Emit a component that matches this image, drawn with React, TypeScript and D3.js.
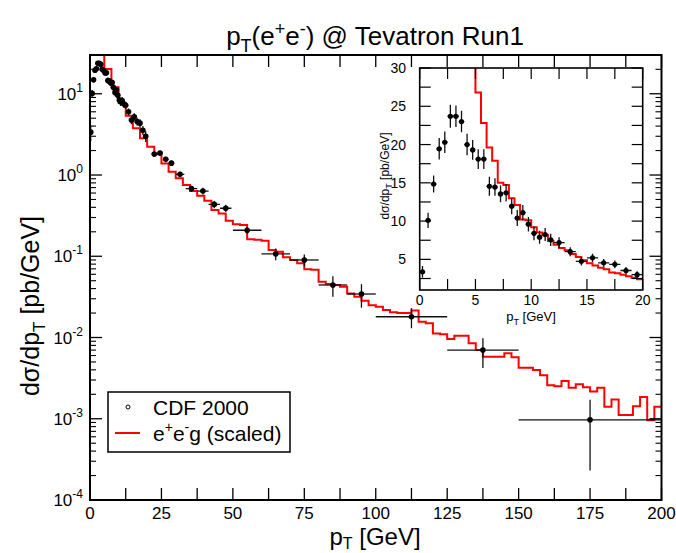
import React from 'react';
import * as d3 from 'd3';

// ---------- data ----------
// CDF 2000 measurement: bin centres (GeV), d sigma/dpT (pb/GeV), stat. error, half bin width
const cdfPt = [
  0.25, 0.75, 1.25, 1.75, 2.25, 2.75, 3.25, 3.75, 4.25, 4.75, 5.25, 5.75,
  6.25, 6.75, 7.25, 7.75, 8.25, 8.75, 9.25, 9.75, 10.25, 10.75, 11.25, 11.75,
  12.5, 13.5, 14.5, 15.5, 16.5, 17.5, 18.5, 19.5,
  22.5, 24.5, 26.5, 28.5, 31.5, 35.5, 39.5, 43.5, 47.5, 55, 65, 75, 85, 95, 112.5, 137.5, 175,
];
const cdfValue = [
  3.37, 10.1, 14.85, 19.45, 20.3, 23.7, 23.7, 23.0, 20.0, 19.3, 18.1, 18.1,
  14.55, 14.45, 13.55, 13.7, 11.95, 10.4, 11.1, 9.6, 8.4, 7.9, 8.25, 7.55,
  7.2, 6.0, 4.75, 5.2, 4.55, 4.35, 3.55, 3.0,
  1.81, 1.86, 1.56, 1.4, 1.02, 0.68, 0.635, 0.435, 0.39, 0.209, 0.107, 0.09, 0.0443, 0.0343, 0.018, 0.007, 0.00097,
];
const cdfError = [
  0.75, 1.0, 1.1, 1.4, 1.4, 1.5, 1.4, 1.4, 1.4, 1.3, 1.3, 1.3,
  1.25, 1.15, 1.1, 1.15, 1.05, 1.05, 1.0, 0.95, 0.9, 0.85, 0.85, 0.8,
  0.7, 0.6, 0.55, 0.55, 0.5, 0.5, 0.45, 0.45,
  0.13, 0.13, 0.12, 0.11, 0.08, 0.06, 0.06, 0.045, 0.04, 0.02, 0.018, 0.015, 0.0125, 0.011, 0.005, 0.0028, 0.00074,
];
const cdfHalfWidth = [
  0.25, 0.25, 0.25, 0.25, 0.25, 0.25, 0.25, 0.25, 0.25, 0.25, 0.25, 0.25,
  0.25, 0.25, 0.25, 0.25, 0.25, 0.25, 0.25, 0.25, 0.25, 0.25, 0.25, 0.25,
  0.5, 0.5, 0.5, 0.5, 0.5, 0.5, 0.5, 0.5,
  1, 1, 1, 1, 1.5, 2, 2, 2, 2, 5, 5, 5, 5, 5, 12.5, 12.5, 25,
];

// e+e-g (scaled) histogram, main panel: 2.5 GeV bins starting at 2.5 GeV
const histMainStart = 2.5;
const histMainWidth = 2.5;
const histMainValues = [
  40, 20.2, 12.0, 7.77, 5.37, 3.75, 2.83, 2.23, 1.8, 1.39,
  1.1, 0.91, 0.753, 0.635, 0.556, 0.483, 0.371, 0.337, 0.274, 0.247,
  0.242, 0.162, 0.16, 0.155, 0.119, 0.114, 0.097, 0.09, 0.082, 0.069,
  0.068, 0.0486, 0.0456, 0.0443, 0.0422, 0.0349, 0.0317, 0.0283, 0.025, 0.0239,
  0.0218, 0.0205, 0.02, 0.02, 0.0215, 0.0156, 0.015, 0.0112, 0.011, 0.0096,
  0.0105, 0.0105, 0.0085, 0.007, 0.0058, 0.0058, 0.0058, 0.0064, 0.0057, 0.00425,
  0.00425, 0.00398, 0.00344, 0.00259, 0.00251, 0.00291, 0.0024, 0.00266, 0.00245, 0.00216,
  0.0024, 0.00141, 0.00173, 0.00111, 0.00111, 0.00143, 0.00185, 0.00096, 0.00141,
];

// histogram in the inset: 0.5 GeV bins starting at 4.5 GeV
const histInsetStart = 4.5;
const histInsetWidth = 0.5;
const histInsetValues = [
  40, 26.8, 22.8, 19.6, 17.9, 15.0, 14.7, 13.0, 12.1, 10.2, 10.1,
  9.2, 8.5, 8.2, 7.4, 6.9, 6.5, 6.2, 5.7, 5.3, 4.9,
  4.5, 4.2, 3.9, 3.7, 3.3, 3.2, 3.0, 2.8, 2.6, 2.4,
];

const mainXTicks = [0, 25, 50, 75, 100, 125, 150, 175, 200];
const mainYDecades = [-4, -3, -2, -1, 0, 1];
const insetXTicks = [0, 5, 10, 15, 20];
const insetYTicks = [5, 10, 15, 20, 25, 30];

// ---------- layout ----------
const W = 676;
const H = 553;
const FONT = '"Liberation Sans", Arial, Helvetica, sans-serif';
const main = { l: 90, r: 661.5, t: 55, b: 500 };
const ins = { l: 419.7, r: 642.7, t: 68, b: 290 };

const x = d3.scaleLinear().domain([0, 200]).range([main.l, main.r]);
const y = d3.scaleLog().domain([1e-4, 30]).range([main.b, main.t]);
const xi = d3.scaleLinear().domain([0, 20]).range([ins.l, ins.r]);
const yi = d3.scaleLinear().domain([1, 30]).range([ins.b, ins.t]);

function stepPath(start: number, width: number, values: number[], sx: any, sy: any) {
  const pts: [number, number][] = values.map((v, i) => [start + i * width, v]);
  pts.push([start + values.length * width, values[values.length - 1]]);
  return d3.line<[number, number]>()
    .x((d) => sx(d[0]))
    .y((d) => sy(d[1]))
    .curve(d3.curveStepAfter)(pts) || '';
}

export default function App() {
  const points = cdfPt.map((p, i) => ({ p, v: cdfValue[i], e: cdfError[i], w: cdfHalfWidth[i] }));

  const xMinor = d3.range(0, 200.01, 12.5);
  const yMinor: number[] = [];
  for (const e of mainYDecades) for (let k = 2; k <= 9; k++) { const v = k * Math.pow(10, e); if (v < 30) yMinor.push(v); }
  const insTicksX = d3.range(0, 20.01, 2.5);
  const insTicksY = d3.range(2.5, 30.01, 2.5);

  return (
    <svg width={W} height={H} style={{ position: 'absolute', left: 0, top: 0, background: '#fff' }} fontFamily={FONT}>
      <defs>
        <clipPath id="clipMain"><rect x={main.l} y={main.t} width={main.r - main.l} height={main.b - main.t} /></clipPath>
        <clipPath id="clipIns"><rect x={ins.l} y={ins.t} width={ins.r - ins.l} height={ins.b - ins.t} /></clipPath>
      </defs>
      <rect x={0} y={0} width={W} height={H} fill="#fff" />

      {/* title */}
      <text x={375} y={45} textAnchor="middle" fontSize={26} fill="#000">
        p<tspan dy={7} fontSize={18}>T</tspan><tspan dy={-7}>(e</tspan><tspan dy={-10} fontSize={18}>+</tspan><tspan dy={10}>e</tspan><tspan dy={-10} fontSize={18}>-</tspan><tspan dy={10}>) @ Tevatron Run1</tspan>
      </text>

      {/* main data */}
      <g clipPath="url(#clipMain)">
        <path d={stepPath(histMainStart, histMainWidth, histMainValues, x, y)} fill="none" stroke="#ff0000" strokeWidth={2} />
        {points.map((d, i) => (
          <g key={i}>
            <line x1={x(d.p - d.w)} x2={x(d.p + d.w)} y1={y(d.v)} y2={y(d.v)} stroke="#111" strokeWidth={1.3} />
            <line x1={x(d.p)} x2={x(d.p)} y1={y(d.v - d.e)} y2={y(d.v + d.e)} stroke="#111" strokeWidth={1.3} />
            <circle cx={x(d.p)} cy={y(d.v)} r={2.8} fill="#000" />
          </g>
        ))}
      </g>

      {/* main frame */}
      <rect x={main.l} y={main.t} width={main.r - main.l} height={main.b - main.t} fill="none" stroke="#000" strokeWidth={2} />
      {xMinor.map((t) => (
        <g key={'xt' + t}>
          <line x1={x(t)} x2={x(t)} y1={main.b} y2={main.b - 12} stroke="#000" strokeWidth={1.3} />
          <line x1={x(t)} x2={x(t)} y1={main.t} y2={main.t + 12} stroke="#000" strokeWidth={1.3} />
        </g>
      ))}
      {mainYDecades.map((e) => (
        <g key={'yt' + e}>
          <line x1={main.l} x2={main.l + 12} y1={y(Math.pow(10, e))} y2={y(Math.pow(10, e))} stroke="#000" strokeWidth={1.3} />
          <line x1={main.r} x2={main.r - 12} y1={y(Math.pow(10, e))} y2={y(Math.pow(10, e))} stroke="#000" strokeWidth={1.3} />
        </g>
      ))}
      {yMinor.map((v, i) => (
        <g key={'ym' + i}>
          <line x1={main.l} x2={main.l + 6} y1={y(v)} y2={y(v)} stroke="#000" strokeWidth={1.1} />
          <line x1={main.r} x2={main.r - 6} y1={y(v)} y2={y(v)} stroke="#000" strokeWidth={1.1} />
        </g>
      ))}
      {mainXTicks.map((t) => (
        <text key={'xl' + t} x={x(t)} y={519} textAnchor="middle" fontSize={17}>{t}</text>
      ))}
      {mainYDecades.map((e) => (
        <text key={'yl' + e} x={83} y={y(Math.pow(10, e)) + 6} textAnchor="end" fontSize={17}>
          10<tspan dy={-8} fontSize={12}>{e}</tspan>
        </text>
      ))}
      <text x={375} y={545} textAnchor="middle" fontSize={24}>
        p<tspan dy={4} fontSize={16}>T</tspan><tspan dy={-4}> [GeV]</tspan>
      </text>
      <text transform="translate(39,306) rotate(-90)" textAnchor="middle" fontSize={25}>
        dσ/dp<tspan dy={6} fontSize={17}>T</tspan><tspan dy={-6}> [pb/GeV]</tspan>
      </text>

      {/* legend */}
      <rect x={108} y={392} width={182} height={60} fill="#fff" stroke="#000" strokeWidth={1.5} />
      <circle cx={128} cy={407} r={2} fill="none" stroke="#000" strokeWidth={1} />
      <text x={153} y={415} fontSize={21}>CDF 2000</text>
      <line x1={115} x2={140} y1={433} y2={433} stroke="#ff0000" strokeWidth={2} />
      <text x={153} y={441} fontSize={21}>
        e<tspan dy={-9} fontSize={14}>+</tspan><tspan dy={9}>e</tspan><tspan dy={-9} fontSize={14}>-</tspan><tspan dy={9}>g (scaled)</tspan>
      </text>

      {/* inset */}
      <rect x={ins.l} y={ins.t} width={ins.r - ins.l} height={ins.b - ins.t} fill="#fff" />
      <g clipPath="url(#clipIns)">
        <path d={stepPath(histInsetStart, histInsetWidth, histInsetValues, xi, yi)} fill="none" stroke="#ff0000" strokeWidth={2} />
        {points.filter((d) => d.p < 20).map((d, i) => (
          <g key={'i' + i}>
            <line x1={xi(d.p - d.w)} x2={xi(d.p + d.w)} y1={yi(d.v)} y2={yi(d.v)} stroke="#111" strokeWidth={1.3} />
            <line x1={xi(d.p)} x2={xi(d.p)} y1={yi(d.v - d.e)} y2={yi(d.v + d.e)} stroke="#111" strokeWidth={1.3} />
            <circle cx={xi(d.p)} cy={yi(d.v)} r={2.6} fill="#000" />
          </g>
        ))}
      </g>
      <rect x={ins.l} y={ins.t} width={ins.r - ins.l} height={ins.b - ins.t} fill="none" stroke="#000" strokeWidth={1.6} />
      {insTicksX.map((t) => (
        <g key={'ixt' + t}>
          <line x1={xi(t)} x2={xi(t)} y1={ins.b} y2={ins.b - 11} stroke="#000" strokeWidth={1.2} />
          <line x1={xi(t)} x2={xi(t)} y1={ins.t} y2={ins.t + 11} stroke="#000" strokeWidth={1.2} />
        </g>
      ))}
      {insTicksY.map((t) => (
        <g key={'iyt' + t}>
          <line x1={ins.l} x2={ins.l + 11} y1={yi(t)} y2={yi(t)} stroke="#000" strokeWidth={1.2} />
          <line x1={ins.r} x2={ins.r - 11} y1={yi(t)} y2={yi(t)} stroke="#000" strokeWidth={1.2} />
        </g>
      ))}
      {insetXTicks.map((t) => (
        <text key={'ixl' + t} x={xi(t)} y={305} textAnchor="middle" fontSize={14}>{t}</text>
      ))}
      {insetYTicks.map((t) => (
        <text key={'iyl' + t} x={406} y={yi(t) + 5} textAnchor="end" fontSize={14}>{t}</text>
      ))}
      <text x={531} y={321} textAnchor="middle" fontSize={13}>
        p<tspan dy={4} fontSize={9}>T</tspan><tspan dy={-4}> [GeV]</tspan>
      </text>
      <text transform="translate(389,176) rotate(-90)" textAnchor="middle" fontSize={12}>
        dσ/dp<tspan dy={3} fontSize={9}>T</tspan><tspan dy={-3}> [pb/GeV]</tspan>
      </text>
    </svg>
  );
}
